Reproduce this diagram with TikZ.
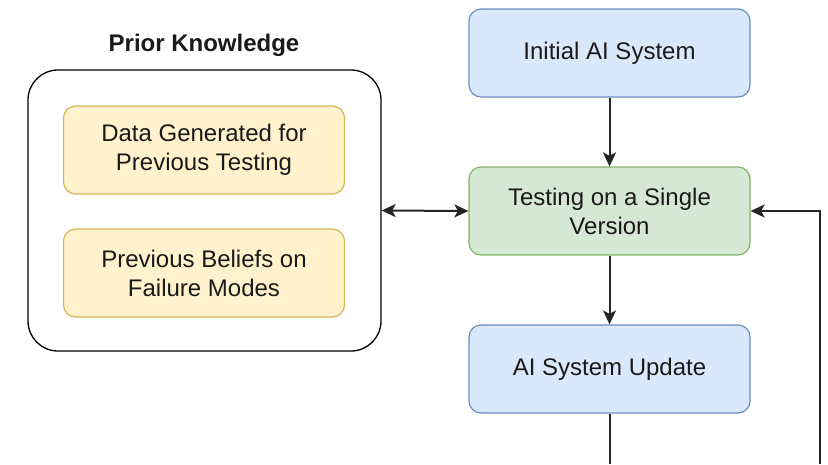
\documentclass[tikz,border=0pt]{standalone}
\usepackage{fontspec}
\setmainfont{Liberation Sans}
\usetikzlibrary{arrows.meta,positioning}
\definecolor{bluefill}{HTML}{DAE8FC}
\definecolor{bluedraw}{HTML}{6C8EBF}
\definecolor{greenfill}{HTML}{D5E8D4}
\definecolor{greendraw}{HTML}{82B366}
\definecolor{yelfill}{HTML}{FFF2CC}
\definecolor{yeldraw}{HTML}{D6B656}
\definecolor{txt}{HTML}{1A1A1A}
\tikzset{
  box/.style={rounded corners=12pt, line width=1.2pt, minimum width=281pt, minimum height=88pt,
    align=center, text=txt, font=\fontsize{24}{29}\selectfont, inner sep=0pt},
  bluebox/.style={box, fill=bluefill, draw=bluedraw},
  greenbox/.style={box, fill=greenfill, draw=greendraw},
  yelbox/.style={box, fill=yelfill, draw=yeldraw},
  conn/.style={line width=2pt, draw=black!85},
  tip/.style={-{Stealth[length=14pt,width=13pt,inset=3.5pt]}},
  dtip/.style={{Stealth[length=14pt,width=13pt,inset=3.5pt]}-{Stealth[length=14pt,width=13pt,inset=3.5pt]}}
}
\begin{document}
\begin{tikzpicture}[x=1pt,y=-1pt]
\useasboundingbox (0,0) rectangle (828,464);
\node[draw=black, line width=1.3pt, fill=white, rounded corners=30pt, minimum width=353pt, minimum height=281pt, inner sep=0pt] (pk) at (204.5,210.5) {};
\node[font=\bfseries\fontsize{24}{29}\selectfont, text=txt] (pkt) at (204,45) {Prior Knowledge};
\node[yelbox] (data) at (204,150) {Data Generated for\\Previous Testing};
\node[yelbox] (beliefs) at (204,273) {Previous Beliefs on\\Failure Modes};
\node[bluebox] (init) at (609.5,53) {Initial AI System};
\node[greenbox] (test) at (609.5,211) {Testing on a Single\\Version};
\node[bluebox] (upd) at (609.5,369) {AI System Update};
\coordinate (c1) at (609.5,464);
\coordinate (c2) at (820,464);
\draw[conn,tip] (init) -- (test);
\draw[conn,tip] (test) -- (upd);
\draw[conn,dtip] (pk.east) -- (test.west);
\draw[conn] (upd) -- (c1);
\draw[conn,tip] (c2) |- (test.east);
\end{tikzpicture}
\end{document}
